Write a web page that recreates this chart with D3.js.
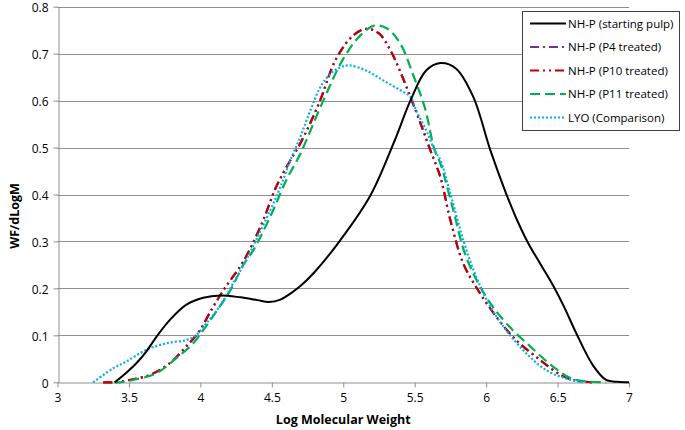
<!DOCTYPE html>
<html>
<head>
<meta charset="utf-8">
<script src="https://cdn.jsdelivr.net/npm/d3@7"></script>
<style>
  body { margin: 0; background: #fff; }
  svg { font-family: "Open Sans", "Liberation Sans", sans-serif; }
</style>
</head>
<body>
<div id="chart"></div>
<script>
// values (Log MW vs WF/dLogM)
const xTicks = [3, 3.5, 4, 4.5, 5, 5.5, 6, 6.5, 7];
const yTicks = [0, 0.1, 0.2, 0.3, 0.4, 0.5, 0.6, 0.7, 0.8];

const seriesNames = ["NH-P (starting pulp)", "NH-P (P4 treated)", "NH-P (P10 treated)", "NH-P (P11 treated)", "LYO (Comparison)"];

const startX = [3.40, 3.48, 3.55, 3.62, 3.70, 3.79, 3.90, 4.02, 4.14, 4.28, 4.40, 4.48, 4.56, 4.63, 4.70, 4.80, 4.98, 5.19, 5.36, 5.47, 5.58, 5.68, 5.79, 5.91, 6.03, 6.14, 6.21, 6.29, 6.38, 6.48, 6.55, 6.63, 6.75, 6.84, 6.92, 7.0];
const startY = [0, 0.02, 0.04, 0.065, 0.1, 0.134, 0.165, 0.18, 0.185, 0.181, 0.175, 0.171, 0.176, 0.189, 0.205, 0.235, 0.303, 0.398, 0.515, 0.6, 0.664, 0.68, 0.668, 0.608, 0.494, 0.402, 0.35, 0.299, 0.252, 0.2, 0.158, 0.105, 0.035, 0.005, 0.001, 0];

const p10X = [3.32, 3.40, 3.52, 3.65, 3.75, 3.81, 3.90, 3.99, 4.09, 4.17, 4.30, 4.43, 4.53, 4.63, 4.70, 4.83, 4.95, 5.07, 5.16, 5.25, 5.33, 5.40, 5.48, 5.55, 5.61, 5.68, 5.75, 5.84, 5.93, 6.07, 6.21, 6.38, 6.52, 6.61, 6.74];
const p10Y = [0, 0, 0.006, 0.016, 0.033, 0.047, 0.076, 0.108, 0.161, 0.2, 0.257, 0.338, 0.416, 0.473, 0.509, 0.594, 0.689, 0.739, 0.753, 0.743, 0.707, 0.661, 0.6, 0.544, 0.494, 0.437, 0.345, 0.253, 0.203, 0.14, 0.09, 0.047, 0.016, 0.005, 0];

// P4 sits right under P10 in the picture
const p4X = [3.32, 3.40, 3.52, 3.65, 3.75, 3.81, 3.90, 3.99, 4.09, 4.17, 4.30, 4.43, 4.53, 4.63, 4.70, 4.83, 4.95, 5.07, 5.16, 5.25, 5.33, 5.40, 5.48, 5.55, 5.61, 5.68, 5.75, 5.84, 5.93, 6.07, 6.21, 6.38, 6.52, 6.61, 6.74];
const p4Y = [0, 0, 0.006, 0.016, 0.033, 0.047, 0.076, 0.108, 0.161, 0.2, 0.257, 0.338, 0.416, 0.473, 0.509, 0.594, 0.689, 0.739, 0.753, 0.743, 0.707, 0.661, 0.6, 0.544, 0.494, 0.437, 0.345, 0.253, 0.203, 0.14, 0.09, 0.047, 0.016, 0.005, 0];

const p11X = [3.40, 3.44, 3.53, 3.69, 3.83, 3.95, 4.02, 4.11, 4.21, 4.30, 4.37, 4.50, 4.60, 4.70, 4.86, 5.00, 5.12, 5.22, 5.31, 5.40, 5.49, 5.57, 5.64, 5.68, 5.77, 5.86, 6.00, 6.14, 6.31, 6.47, 6.59, 6.70, 6.84];
const p11Y = [0, 0, 0.005, 0.019, 0.051, 0.083, 0.111, 0.15, 0.196, 0.25, 0.281, 0.36, 0.43, 0.487, 0.6, 0.689, 0.739, 0.76, 0.753, 0.721, 0.654, 0.586, 0.494, 0.466, 0.367, 0.267, 0.182, 0.126, 0.076, 0.033, 0.009, 0.002, 0];

const lyoX = [3.25, 3.39, 3.48, 3.62, 3.76, 3.90, 3.97, 4.04, 4.14, 4.23, 4.32, 4.39, 4.49, 4.56, 4.63, 4.70, 4.77, 4.84, 4.91, 4.98, 5.04, 5.16, 5.28, 5.40, 5.47, 5.51, 5.58, 5.64, 5.68, 5.75, 5.84, 5.93, 6.03, 6.14, 6.28, 6.42, 6.56, 6.68];
const lyoY = [0, 0.03, 0.044, 0.069, 0.083, 0.09, 0.1, 0.125, 0.164, 0.211, 0.26, 0.303, 0.367, 0.416, 0.473, 0.523, 0.579, 0.629, 0.657, 0.671, 0.675, 0.664, 0.643, 0.622, 0.608, 0.579, 0.537, 0.494, 0.473, 0.402, 0.303, 0.225, 0.161, 0.111, 0.062, 0.026, 0.008, 0];

const width = 685, height = 430;
const plot = {left: 57.5, right: 629, top: 6.7, bottom: 382.3};

const svg = d3.select('#chart')
  .append('svg')
  .attr('width', width)
  .attr('height', height);

const x = d3.scaleLinear().domain([3, 7]).range([plot.left, plot.right]);
const y = d3.scaleLinear().domain([0, 0.8]).range([plot.bottom, plot.top]);

const gridColor = '#8f8f8f';

// horizontal gridlines
svg.append('g')
  .selectAll('line')
  .data(yTicks.slice(1))
  .enter()
  .append('line')
  .attr('x1', plot.left)
  .attr('x2', plot.right)
  .attr('y1', d => Math.round(y(d)) + 0.5)
  .attr('y2', d => Math.round(y(d)) + 0.5)
  .attr('stroke', gridColor)
  .attr('stroke-width', 1);

// axes
const xAxis = svg.append('g')
  .attr('transform', `translate(0,${Math.round(plot.bottom) + 0.5})`)
  .call(d3.axisBottom(x).tickValues(xTicks).tickSize(5).tickSizeOuter(0).tickFormat(d3.format('')));

const yAxis = svg.append('g')
  .attr('transform', `translate(${Math.round(plot.left) + 0.5},0)`)
  .call(d3.axisLeft(y).tickValues(yTicks).tickSize(5).tickSizeOuter(0).tickFormat(d3.format('')));

[xAxis, yAxis].forEach(g => {
  g.select('.domain').attr('stroke', gridColor);
  g.selectAll('.tick line').attr('stroke', gridColor);
  g.selectAll('.tick text')
    .attr('fill', '#000')
    .style('font-size', '12px')
    .style('font-family', '"Open Sans", sans-serif');
});
xAxis.selectAll('.tick text').attr('dy', '1.1em').attr('y', 6);
yAxis.selectAll('.tick text').attr('x', -10).attr('dy', '0.4em');

// titles
svg.append('text')
  .attr('x', (plot.left + plot.right) / 2)
  .attr('y', 424)
  .attr('text-anchor', 'middle')
  .style('font-size', '12.5px')
  .style('font-weight', 'bold')
  .text('Log Molecular Weight');

svg.append('text')
  .attr('transform', 'translate(19,216) rotate(-90)')
  .attr('text-anchor', 'middle')
  .style('font-size', '12.5px')
  .style('font-weight', 'bold')
  .text('WF/dLogM');

// series (P4 uses the same dash as P10 so it stays hidden under it)
const series = [
  {name: seriesNames[1], xs: p4X, ys: p4Y, color: '#7030A0', dash: '9,4,2,4,2,4', legendDash: '9,4,2,4', w: 2.2},
  {name: seriesNames[2], xs: p10X, ys: p10Y, color: '#C00000', dash: '9,4,2,4,2,4', w: 2.2},
  {name: seriesNames[3], xs: p11X, ys: p11Y, color: '#00B050', dash: '10,5', w: 2.2},
  {name: seriesNames[4], xs: lyoX, ys: lyoY, color: '#00B0F0', dash: '2,2', w: 2.2},
  {name: seriesNames[0], xs: startX, ys: startY, color: '#000000', dash: null, w: 2}
];

const line = d3.line()
  .x(d => x(d[0]))
  .y(d => y(d[1]))
  .curve(d3.curveCatmullRom.alpha(0.5));

svg.append('g')
  .selectAll('path')
  .data(series)
  .enter()
  .append('path')
  .attr('d', s => line(s.xs.map((v, i) => [v, s.ys[i]])))
  .attr('fill', 'none')
  .attr('stroke', s => s.color)
  .attr('stroke-width', s => s.w)
  .attr('stroke-dasharray', s => s.dash);

// legend
const legendOrder = [series[4], series[0], series[1], series[2], series[3]];
const legend = svg.append('g');
legend.append('rect')
  .attr('x', 522.5)
  .attr('y', 11.5)
  .attr('width', 157)
  .attr('height', 119)
  .attr('fill', '#fff')
  .attr('stroke', '#404040')
  .attr('stroke-width', 1);

const rows = legend.selectAll('g.row')
  .data(legendOrder)
  .enter()
  .append('g')
  .attr('class', 'row')
  .attr('transform', (d, i) => `translate(0,${23.5 + i * 23.5})`);

rows.append('line')
  .attr('x1', 530)
  .attr('x2', 566)
  .attr('y1', 0)
  .attr('y2', 0)
  .attr('stroke', d => d.color)
  .attr('stroke-width', d => d.w)
  .attr('stroke-dasharray', d => d.legendDash || d.dash);

rows.append('text')
  .attr('x', 568)
  .attr('y', 0)
  .attr('dy', '0.35em')
  .style('font-size', '11.5px')
  .text(d => d.name);
</script>
</body>
</html>
